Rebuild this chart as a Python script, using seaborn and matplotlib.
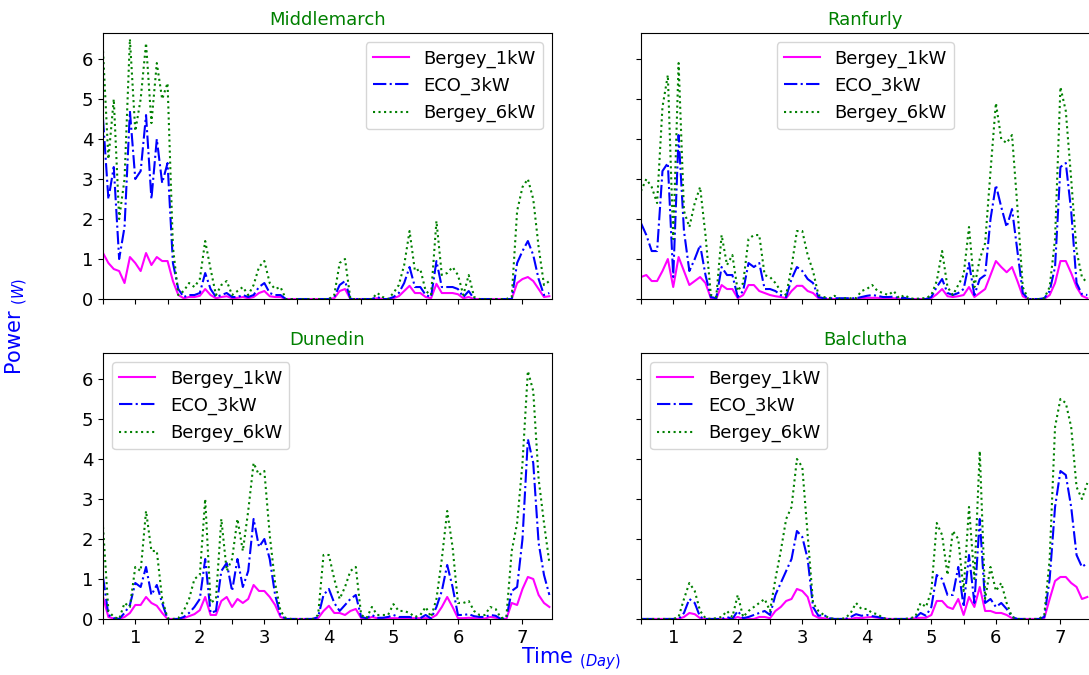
import numpy as np
import matplotlib
matplotlib.use("Agg")
import matplotlib.pyplot as plt
from matplotlib.ticker import MultipleLocator
import seaborn as sns

# ---------------- data (2-hourly samples, days 0.5 .. 7.42) ----------------
time_days = 0.5 + np.arange(84) / 12.0

sites = ["Middlemarch", "Ranfurly", "Dunedin", "Balclutha"]
turbines = ["Bergey_1kW", "ECO_3kW", "Bergey_6kW"]

middlemarch_1kw = [1.15, 0.9, 0.75, 0.7, 0.4, 1.05, 0.9, 0.7, 1.15, 0.85,
                   1.05, 0.95, 0.95, 0.45, 0.1, 0.02, 0.05, 0.05, 0.08, 0.25,
                   0.1, 0.02, 0.05, 0.07, 0.02, 0.03, 0.05, 0.02, 0.05, 0.15,
                   0.2, 0.07, 0.05, 0.05, 0, 0, 0, 0, 0, 0,
                   0, 0, 0, 0.02, 0.2, 0.25, 0, 0, 0, 0,
                   0, 0.02, 0, 0, 0.02, 0.07, 0.2, 0.33, 0.15, 0.15,
                   0.05, 0.02, 0.38, 0.15, 0.15, 0.15, 0.12, 0.02, 0.05, 0,
                   0, 0, 0, 0, 0, 0, 0, 0.4, 0.5, 0.55,
                   0.45, 0.25, 0.05, 0.07]
middlemarch_3kw = [4.5, 2.5, 3.3, 1.0, 1.8, 4.7, 3.0, 3.2, 4.6, 2.5,
                   4.0, 2.9, 3.4, 0.9, 0.25, 0.05, 0.1, 0.1, 0.15, 0.65,
                   0.25, 0.05, 0.1, 0.15, 0.05, 0.05, 0.1, 0.05, 0.1, 0.3,
                   0.4, 0.15, 0.1, 0.1, 0, 0, 0, 0, 0, 0,
                   0, 0, 0, 0.05, 0.35, 0.45, 0, 0, 0, 0,
                   0, 0.05, 0, 0, 0.05, 0.15, 0.4, 0.8, 0.3, 0.3,
                   0.1, 0.05, 0.95, 0.3, 0.3, 0.3, 0.25, 0.05, 0.2, 0,
                   0, 0, 0, 0, 0, 0, 0, 0.9, 1.2, 1.45,
                   1.1, 0.5, 0.1, 0.15]
middlemarch_6kw = [6.2, 3.5, 5.0, 2.0, 3.0, 6.5, 4.2, 5.0, 6.4, 4.4,
                   5.9, 5.0, 5.4, 1.3, 0.1, 0.2, 0.4, 0.3, 0.5, 1.45,
                   0.75, 0.1, 0.35, 0.45, 0.1, 0.2, 0.3, 0.1, 0.35, 0.8,
                   0.95, 0.4, 0.25, 0.3, 0, 0, 0, 0, 0, 0,
                   0, 0, 0, 0.1, 0.9, 1.0, 0, 0, 0, 0,
                   0, 0.15, 0.05, 0, 0.15, 0.35, 0.85, 1.7, 0.7, 0.75,
                   0.2, 0.1, 1.95, 0.6, 0.65, 0.8, 0.6, 0.1, 0.6, 0.05,
                   0, 0, 0, 0, 0, 0, 0.05, 2.2, 2.8, 3.0,
                   2.5, 1.3, 0.35, 0.45]

ranfurly_1kw = [0.55, 0.6, 0.45, 0.45, 0.7, 1.0, 0.3, 1.05, 0.7, 0.35,
                0.45, 0.55, 0.4, 0.02, 0.0, 0.35, 0.25, 0.25, 0.02, 0.1,
                0.35, 0.35, 0.2, 0.15, 0.1, 0.07, 0.05, 0.02, 0.2, 0.33,
                0.33, 0.2, 0.15, 0.02, 0, 0, 0, 0, 0, 0,
                0, 0.02, 0.03, 0.03, 0.03, 0.02, 0.02, 0.02, 0, 0,
                0, 0, 0, 0, 0.02, 0.12, 0.25, 0.07, 0.05, 0.07,
                0.1, 0.3, 0.05, 0.15, 0.25, 0.6, 0.95, 0.8, 0.67, 0.8,
                0.45, 0.07, 0, 0, 0, 0, 0.1, 0.4, 0.95, 0.95,
                0.65, 0.3, 0.08, 0.02]
ranfurly_3kw = [1.9, 1.6, 1.2, 1.2, 3.2, 3.4, 0.55, 4.1, 1.7, 0.7,
                1.0, 1.35, 0.6, 0.05, 0.02, 0.8, 0.6, 0.6, 0.05, 0.2,
                0.9, 0.8, 0.9, 0.25, 0.25, 0.2, 0.1, 0.05, 0.5, 0.8,
                0.7, 0.5, 0.4, 0.05, 0.02, 0.02, 0.02, 0.02, 0.02, 0.02,
                0.02, 0.05, 0.08, 0.1, 0.08, 0.05, 0.05, 0.06, 0.02, 0.03,
                0, 0, 0, 0, 0.05, 0.3, 0.5, 0.15, 0.1, 0.15,
                0.25, 0.9, 0.1, 0.5, 0.6, 2.0, 2.85, 2.3, 1.8, 2.25,
                1.2, 0.15, 0, 0, 0, 0.02, 0.2, 0.8, 3.3, 3.4,
                2.2, 0.4, 0.12, 0.1]
ranfurly_6kw = [2.7, 3.0, 2.8, 2.4, 4.8, 5.6, 1.5, 5.9, 2.2, 1.8,
                2.4, 2.8, 1.6, 0.1, 0.05, 1.6, 0.85, 1.1, 0.2, 0.4,
                1.5, 1.6, 1.6, 0.6, 0.55, 0.4, 0.2, 0.1, 0.8, 1.7,
                1.7, 1.1, 0.7, 0.1, 0.05, 0.02, 0.08, 0, 0.02, 0.02,
                0.02, 0.2, 0.25, 0.35, 0.2, 0.15, 0.1, 0.2, 0.02, 0.1,
                0.02, 0, 0.02, 0.02, 0.1, 0.45, 1.2, 0.3, 0.1, 0.35,
                0.6, 1.8, 0.3, 1.0, 1.4, 3.2, 4.9, 4.0, 3.9, 4.1,
                2.3, 0.3, 0, 0, 0, 0.02, 0.3, 1.5, 5.3, 4.7,
                3.0, 1.2, 0.55, 0.4]

dunedin_1kw = [0.55, 0.05, 0.01, 0, 0.05, 0.15, 0.35, 0.35, 0.55, 0.4,
               0.33, 0.15, 0, 0, 0, 0.02, 0.07, 0.12, 0.22, 0.55,
               0.1, 0.1, 0.45, 0.55, 0.3, 0.5, 0.4, 0.5, 0.85, 0.7,
               0.7, 0.55, 0.35, 0.05, 0, 0, 0, 0, 0, 0,
               0.02, 0.2, 0.33, 0.15, 0.15, 0.1, 0.2, 0.25, 0.02, 0,
               0.05, 0.02, 0.02, 0.02, 0.02, 0.02, 0.02, 0.02, 0.02, 0.02,
               0.02, 0.02, 0.1, 0.3, 0.55, 0.3, 0.02, 0.02, 0.03, 0.02,
               0.01, 0.01, 0.05, 0.03, 0, 0, 0.4, 0.35, 0.75, 1.05,
               1.0, 0.6, 0.4, 0.3]
dunedin_3kw = [1.05, 0.1, 0.02, 0.0, 0.15, 0.35, 0.9, 0.8, 1.3, 0.6,
               0.85, 0.4, 0.0, 0, 0, 0.05, 0.15, 0.3, 0.5, 1.5,
               0.15, 0.2, 1.2, 1.4, 0.7, 1.5, 0.8, 1.2, 2.5, 1.8,
               2.0, 1.5, 0.6, 0.1, 0.0, 0, 0, 0, 0, 0,
               0.05, 0.6, 0.75, 0.4, 0.2, 0.35, 0.5, 0.6, 0.05, 0.02,
               0.1, 0.03, 0.03, 0.05, 0.1, 0.05, 0.05, 0.05, 0.02, 0.02,
               0.1, 0.01, 0.3, 0.7, 1.35, 0.8, 0.1, 0.1, 0.12, 0.07,
               0.05, 0.05, 0.1, 0.08, 0, 0.02, 0.7, 0.8, 2.0, 4.5,
               3.9, 1.9, 1.1, 0.6]
dunedin_6kw = [2.3, 0.2, 0.05, 0.0, 0.4, 0.3, 1.3, 1.2, 2.7, 1.7,
               1.7, 0.5, 0.02, 0.0, 0.02, 0.2, 0.5, 1.0, 1.1, 3.0,
               0.4, 0.5, 2.5, 1.2, 1.5, 2.5, 1.7, 2.7, 3.9, 3.6,
               3.7, 2.1, 0.9, 0.2, 0.02, 0, 0, 0, 0, 0,
               0.1, 1.6, 1.6, 1.0, 0.5, 0.8, 1.2, 1.3, 0.1, 0.02,
               0.3, 0.1, 0.1, 0.1, 0.37, 0.2, 0.2, 0.15, 0.05, 0.1,
               0.3, 0.05, 0.5, 1.5, 2.7, 1.8, 0.4, 0.4, 0.45, 0.2,
               0.1, 0.1, 0.3, 0.25, 0.02, 0.05, 1.7, 2.4, 3.9, 6.2,
               5.7, 3.5, 2.4, 1.4]

balclutha_1kw = [0, 0, 0, 0, 0, 0, 0, 0, 0.05, 0.15,
                 0.12, 0.02, 0, 0, 0, 0, 0, 0, 0.05, 0,
                 0, 0, 0.05, 0.05, 0.02, 0.2, 0.3, 0.45, 0.5, 0.75,
                 0.7, 0.55, 0.1, 0.03, 0.02, 0, 0, 0, 0, 0,
                 0.03, 0.02, 0.04, 0.05, 0.03, 0.02, 0, 0, 0, 0,
                 0, 0.02, 0.03, 0.03, 0.1, 0.45, 0.45, 0.3, 0.25, 0.5,
                 0.1, 0.55, 0.3, 0.8, 0.2, 0.2, 0.15, 0.15, 0.1, 0.02,
                 0, 0, 0, 0, 0, 0.02, 0.5, 0.95, 1.05, 1.05,
                 0.9, 0.8, 0.5, 0.55]
balclutha_3kw = [0, 0, 0, 0, 0, 0, 0, 0, 0.15, 0.5,
                 0.4, 0.05, 0, 0, 0, 0, 0.05, 0, 0.2, 0.02,
                 0.05, 0.1, 0.15, 0.2, 0.1, 0.6, 0.9, 1.2, 1.5, 2.2,
                 2.05, 1.5, 0.3, 0.08, 0.1, 0.02, 0, 0, 0, 0.05,
                 0.12, 0.08, 0.1, 0.07, 0.05, 0.02, 0, 0, 0, 0,
                 0, 0.03, 0.15, 0.08, 0.3, 1.1, 1.0, 0.6, 0.6, 1.3,
                 0.3, 1.6, 0.4, 2.5, 0.4, 0.5, 0.3, 0.4, 0.25, 0.05,
                 0, 0, 0, 0, 0, 0.05, 1.0, 2.8, 3.7, 3.6,
                 2.8, 1.6, 1.3, 1.4]
balclutha_6kw = [0, 0, 0, 0, 0, 0, 0, 0.05, 0.5, 0.9,
                 0.7, 0.2, 0.02, 0, 0.02, 0.05, 0.2, 0.05, 0.6, 0.05,
                 0.2, 0.3, 0.4, 0.5, 0.2, 1.0, 1.7, 2.5, 2.8, 4.0,
                 3.8, 2.1, 0.4, 0.2, 0.1, 0.02, 0, 0, 0.02, 0.15,
                 0.4, 0.25, 0.25, 0.15, 0.12, 0.02, 0, 0, 0, 0,
                 0.02, 0.05, 0.4, 0.3, 0.7, 2.4, 2.1, 1.1, 2.2, 2.0,
                 0.7, 2.8, 1.0, 4.2, 0.5, 1.3, 0.7, 0.9, 0.4, 0.05,
                 0, 0, 0, 0, 0, 0.1, 1.5, 4.8, 5.5, 5.4,
                 4.8, 3.3, 3.0, 3.4]

x_tick_labels = ["1", "2", "3", "4", "5", "6", "7"]

site_series = {
    "Middlemarch": [middlemarch_1kw, middlemarch_3kw, middlemarch_6kw],
    "Ranfurly": [ranfurly_1kw, ranfurly_3kw, ranfurly_6kw],
    "Dunedin": [dunedin_1kw, dunedin_3kw, dunedin_6kw],
    "Balclutha": [balclutha_1kw, balclutha_3kw, balclutha_6kw],
}

# ---------------- styling ----------------
colors = ["#ff00ff", "#0000ff", "#008000"]
styles = ["-", "-.", ":"]
legend_locs = {"Middlemarch": "upper right", "Ranfurly": "upper center",
               "Dunedin": "upper left", "Balclutha": "upper left"}

plt.rcParams["font.family"] = ["DejaVu Sans"]
plt.rcParams["font.size"] = 13

fig, axes = plt.subplots(2, 2, sharex=True, sharey=True, figsize=(10.89, 6.75), dpi=100)
fig.subplots_adjust(left=0.0946, right=1.0009, bottom=0.083, top=0.951,
                    wspace=0.198, hspace=0.203)

for ax, site in zip(axes.flat, sites):
    for vals, name, c, ls in zip(site_series[site], turbines, colors, styles):
        sns.lineplot(x=time_days, y=np.asarray(vals, dtype=float), ax=ax,
                     color=c, linestyle=ls, linewidth=1.5, label=name)
    ax.set_title(site, color="green", fontsize=13)
    ax.legend(loc=legend_locs[site], fontsize=13)
    ax.set_xlabel("")
    ax.set_ylabel("")
    ax.set_xlim(0.5, 7.458)
    ax.set_ylim(0, 6.65)
    ax.xaxis.set_major_locator(MultipleLocator(1))
    ax.xaxis.set_minor_locator(MultipleLocator(0.5))
    ax.set_yticks(range(0, 7))
    ax.tick_params(which="both", length=3.5, width=0.8, labelsize=13)

axes[1, 0].set_xticks(range(1, 8))
axes[1, 0].set_xticklabels(x_tick_labels)

fig.text(17 / 1089, 1 - 326 / 675, r"Power $_{(W)}$", color="blue", fontsize=15,
         rotation=90, ha="center", va="center")
fig.text(571 / 1089, 1 - 663 / 675, r"Time $_{(Day)}$", color="blue", fontsize=15,
         ha="center", va="baseline")

fig.savefig("out.png", dpi=100)
